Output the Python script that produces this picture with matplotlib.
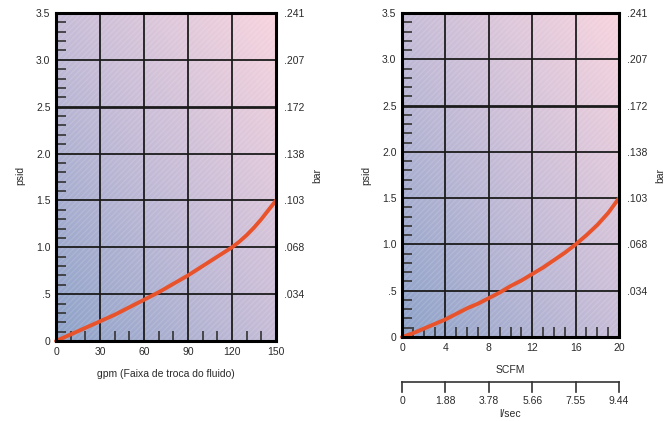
import numpy as np
import matplotlib; matplotlib.use("Agg")
import matplotlib.pyplot as plt
from matplotlib.colors import LinearSegmentedColormap
from matplotlib.patches import Rectangle

plt.rcParams.update({"font.family": ["Liberation Sans", "DejaVu Sans"], "font.size": 7.5})

# ---- data ---------------------------------------------------------------
gpm = [0, 10, 20, 30, 40, 50, 60, 70, 80, 90, 100, 110, 120, 125, 130, 135, 140, 145, 150]
psid_gpm = [0, 0.07, 0.14, 0.21, 0.28, 0.36, 0.44, 0.52, 0.61, 0.70, 0.80, 0.90, 1.00,
            1.06, 1.13, 1.21, 1.30, 1.40, 1.50]
scfm = [0, 1, 2, 3, 4, 5, 6, 7, 8, 9, 10, 11, 12, 13, 14, 15, 16, 17, 18, 19, 20]
psid_scfm = [0, 0.04, 0.09, 0.14, 0.19, 0.25, 0.31, 0.36, 0.42, 0.48, 0.55, 0.61, 0.68,
             0.75, 0.83, 0.91, 1.00, 1.10, 1.21, 1.34, 1.50]

psid_ticks = [0, 0.5, 1.0, 1.5, 2.0, 2.5, 3.0, 3.5]
psid_labels = ["0", ".5", "1.0", "1.5", "2.0", "2.5", "3.0", "3.5"]
bar_labels = ["", ".034", ".068", ".103", ".138", ".172", ".207", ".241"]
gpm_ticks = [0, 30, 60, 90, 120, 150]
scfm_ticks = [0, 4, 8, 12, 16, 20]
lsec_labels = ["0", "1.88", "3.78", "5.66", "7.55", "9.44"]

W, H = 667, 421
fig = plt.figure(figsize=(W / 100, H / 100), dpi=100)
fig.patch.set_facecolor("white")
ORANGE = "#e8532b"
GRID = "#1c1c1c"
TXT = "#2a2a2a"
grad = LinearSegmentedColormap.from_list("g", ["#8da2c9", "#c6bcd7", "#f8d4de"])


def box(px0, py0, px1, py1):
    return [px0 / W, 1 - py1 / H, (px1 - px0) / W, (py1 - py0) / H]


def panel(rect, xs, ys, xticks, xmax, xminor, xlabel, ylab_x, bar_x):
    ax = fig.add_axes(rect)
    # diagonal gradient background
    gx, gy = np.meshgrid(np.linspace(0, 1, 200), np.linspace(0, 1, 200))
    ax.imshow((gx + gy) / 2, cmap=grad, extent=[0, xmax, 0, 3.5], origin="lower",
              aspect="auto", zorder=0, vmin=0, vmax=1)
    ax.add_patch(Rectangle((0, 0), xmax, 3.5, fill=False, hatch="//////", lw=0,
                           edgecolor=(1, 1, 1, 0.12), zorder=0.5))
    ax.set_xlim(0, xmax); ax.set_ylim(0, 3.5)
    for x in xticks[1:-1]:
        ax.axvline(x, color=GRID, lw=1.3, zorder=1)
    for y in psid_ticks[1:-1]:
        ax.axhline(y, color=GRID, lw=2.0 if y == 2.5 else 1.3, zorder=1)
    ax.plot(xs, ys, color=ORANGE, lw=2.8, solid_capstyle="round", zorder=3, clip_on=False)
    ax.set_xticks(xticks)
    ax.set_xticks([v for v in np.arange(0, xmax + 0.01, xminor) if v not in xticks], minor=True)
    ax.set_yticks(psid_ticks); ax.set_yticklabels(psid_labels)
    ax.set_yticks([v for v in np.round(np.arange(0, 3.51, 0.1), 1) if v not in psid_ticks],
                  minor=True)
    ax.tick_params(which="major", length=0, pad=4, colors=TXT, labelsize=7.5)
    ax.tick_params(which="minor", direction="in", length=7, width=1.2, color="#333333")
    for s in ax.spines.values():
        s.set_linewidth(2.2); s.set_color("black"); s.set_zorder(4)
    ax.set_xlabel(xlabel, fontsize=7.5, color=TXT, labelpad=9)
    fig.text(ylab_x / W, 1 - 175 / H, "psid", rotation=90, ha="center", va="center",
             fontsize=7.5, color=TXT)
    ax2 = ax.twinx()
    ax2.set_ylim(0, 3.5)
    ax2.set_yticks(psid_ticks); ax2.set_yticklabels(bar_labels)
    ax2.tick_params(length=0, pad=6, colors=TXT, labelsize=7.5)
    for s in ax2.spines.values():
        s.set_visible(False)
    fig.text(bar_x / W, 1 - 175 / H, "bar", rotation=90, ha="center", va="center",
             fontsize=7.5, color=TXT)
    return ax


panel(box(56, 13, 276, 341), gpm, psid_gpm, gpm_ticks, 150, 10,
      "gpm (Faixa de troca do fluido)", 20, 317)
panel(box(402, 13, 619, 337), scfm, psid_scfm, scfm_ticks, 20, 1, "SCFM", 366, 660)

# l/sec scale under the SCFM panel: line on top, ticks hanging down
ax3 = fig.add_axes(box(402, 382, 619, 392))
ax3.set_xlim(0, 20); ax3.set_ylim(0, 1)
ax3.set_xticks(scfm_ticks); ax3.set_xticklabels(lsec_labels)
ax3.set_yticks([])
ax3.patch.set_visible(False)
for s in ("bottom", "left", "right"):
    ax3.spines[s].set_visible(False)
ax3.spines["top"].set_linewidth(1.2); ax3.spines["top"].set_color("#333333")
ax3.tick_params(axis="x", length=0, pad=3, colors=TXT, labelsize=7.5)
for x in scfm_ticks:
    ax3.plot([x, x], [0, 1], color="#333333", lw=1.2, clip_on=False)
ax3.set_xlabel("l/sec", fontsize=7.5, color=TXT, labelpad=2)

fig.savefig("out.png", dpi=100, facecolor="white")
